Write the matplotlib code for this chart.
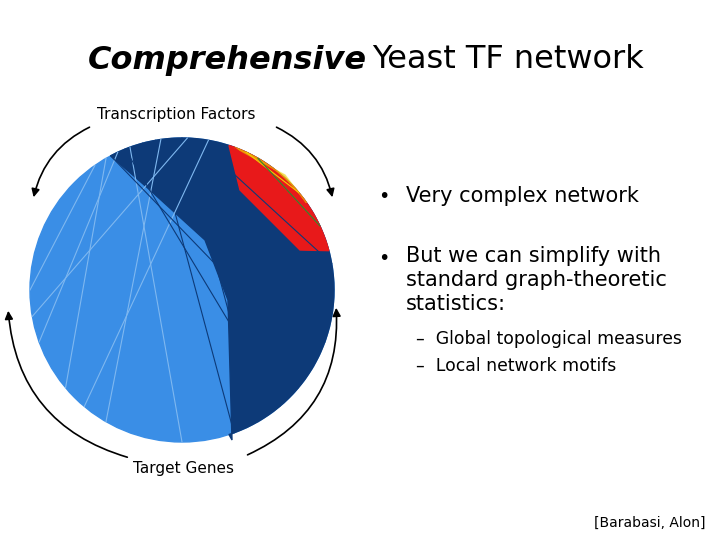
import numpy as np
import matplotlib
matplotlib.use("Agg")
import matplotlib.pyplot as plt
from matplotlib.patches import Circle, Polygon, FancyArrowPatch

# network description (angles in degrees, measured from +x, counter-clockwise)
region_names = ["targets_light", "targets_dark", "tf_red"]
region_colors = ["#3a8ee6", "#0d3a78", "#e8191a"]
dark_arc = [-72, 118]
red_arc = [15, 72]
edge_src = [100, 95, 105, 90, 85, 115, 120, 98, 88, 80, 110, 125, 70, 65, 60, 112, 118]
edge_dst = [-70, -40, -20, -60, 10, 200, 220, 240, 190, 230, -90, 180, 30, 40, 25, -50, -30]
edge_col = ["#0d3a78"] * 5 + ["#7fb8f0"] * 7 + ["#e8191a", "#f0d000", "#2e8b2e", "#0d3a78", "#0d3a78"]

fig = plt.figure(figsize=(7.2, 5.4), dpi=100)
ax = fig.add_axes([0, 0, 1, 1])
ax.set_xlim(0, 720)
ax.set_ylim(540, 0)
ax.axis("off")

cx, cy, r = 182, 290, 152
ax.add_patch(Circle((cx, cy), r, color="#3a8ee6", zorder=1))

def pt(a, rr=r):
    return cx + rr * np.cos(np.radians(a)), cy - rr * np.sin(np.radians(a))

a = np.linspace(dark_arc[0], dark_arc[1], 80)
arc = [pt(t) for t in a]
inner = [(150, 190), (205, 240), (228, 300), (232, 440)]
ax.add_patch(Polygon(arc + inner, closed=True, color="#0d3a78", zorder=2))
a = np.linspace(red_arc[0], red_arc[1], 40)
arc = [pt(t) for t in a]
ax.add_patch(Polygon(arc + [(240, 190), (300, 250)], closed=True, color="#e8191a", zorder=3))
ax.add_patch(Polygon([pt(t) for t in np.linspace(35, 70, 20)] + [(285, 175)],
                     closed=True, color="#f0d000", zorder=3, alpha=0.5))
for s, d, c in zip(edge_src, edge_dst, edge_col):
    x1, y1 = pt(s); x2, y2 = pt(d)
    ax.plot([x1, x2], [y1, y2], color=c, lw=0.8, zorder=4)

def arrow(p1, p2, rad):
    ax.add_patch(FancyArrowPatch(p1, p2, connectionstyle=f"arc3,rad={rad}",
                                 arrowstyle="-|>", mutation_scale=12, lw=1.2, color="black"))
arrow((92, 126), (33, 200), 0.25)
arrow((274, 126), (333, 200), -0.25)
arrow((130, 458), (8, 308), -0.35)
arrow((245, 456), (336, 305), 0.35)

ax.text(88, 60, "Comprehensive", fontsize=23, fontweight="bold", fontstyle="italic", va="center")
ax.text(372, 60, "Yeast TF network", fontsize=23, va="center")
ax.text(97, 115, "Transcription Factors", fontsize=11, va="center")
ax.text(133, 469, "Target Genes", fontsize=11, va="center")
ax.text(378, 196, "•", fontsize=14, va="center")
ax.text(406, 196, "Very complex network", fontsize=15, va="center")
ax.text(378, 259, "•", fontsize=14, va="center")
ax.text(406, 246, "But we can simplify with\nstandard graph-theoretic\nstatistics:",
        fontsize=15, va="top", linespacing=1.25)
ax.text(416, 339, "–  Global topological measures", fontsize=12.4, va="center")
ax.text(416, 366, "–  Local network motifs", fontsize=12.4, va="center")
ax.text(594, 523, "[Barabasi, Alon]", fontsize=10, va="center")

fig.savefig("out.png", dpi=100)
